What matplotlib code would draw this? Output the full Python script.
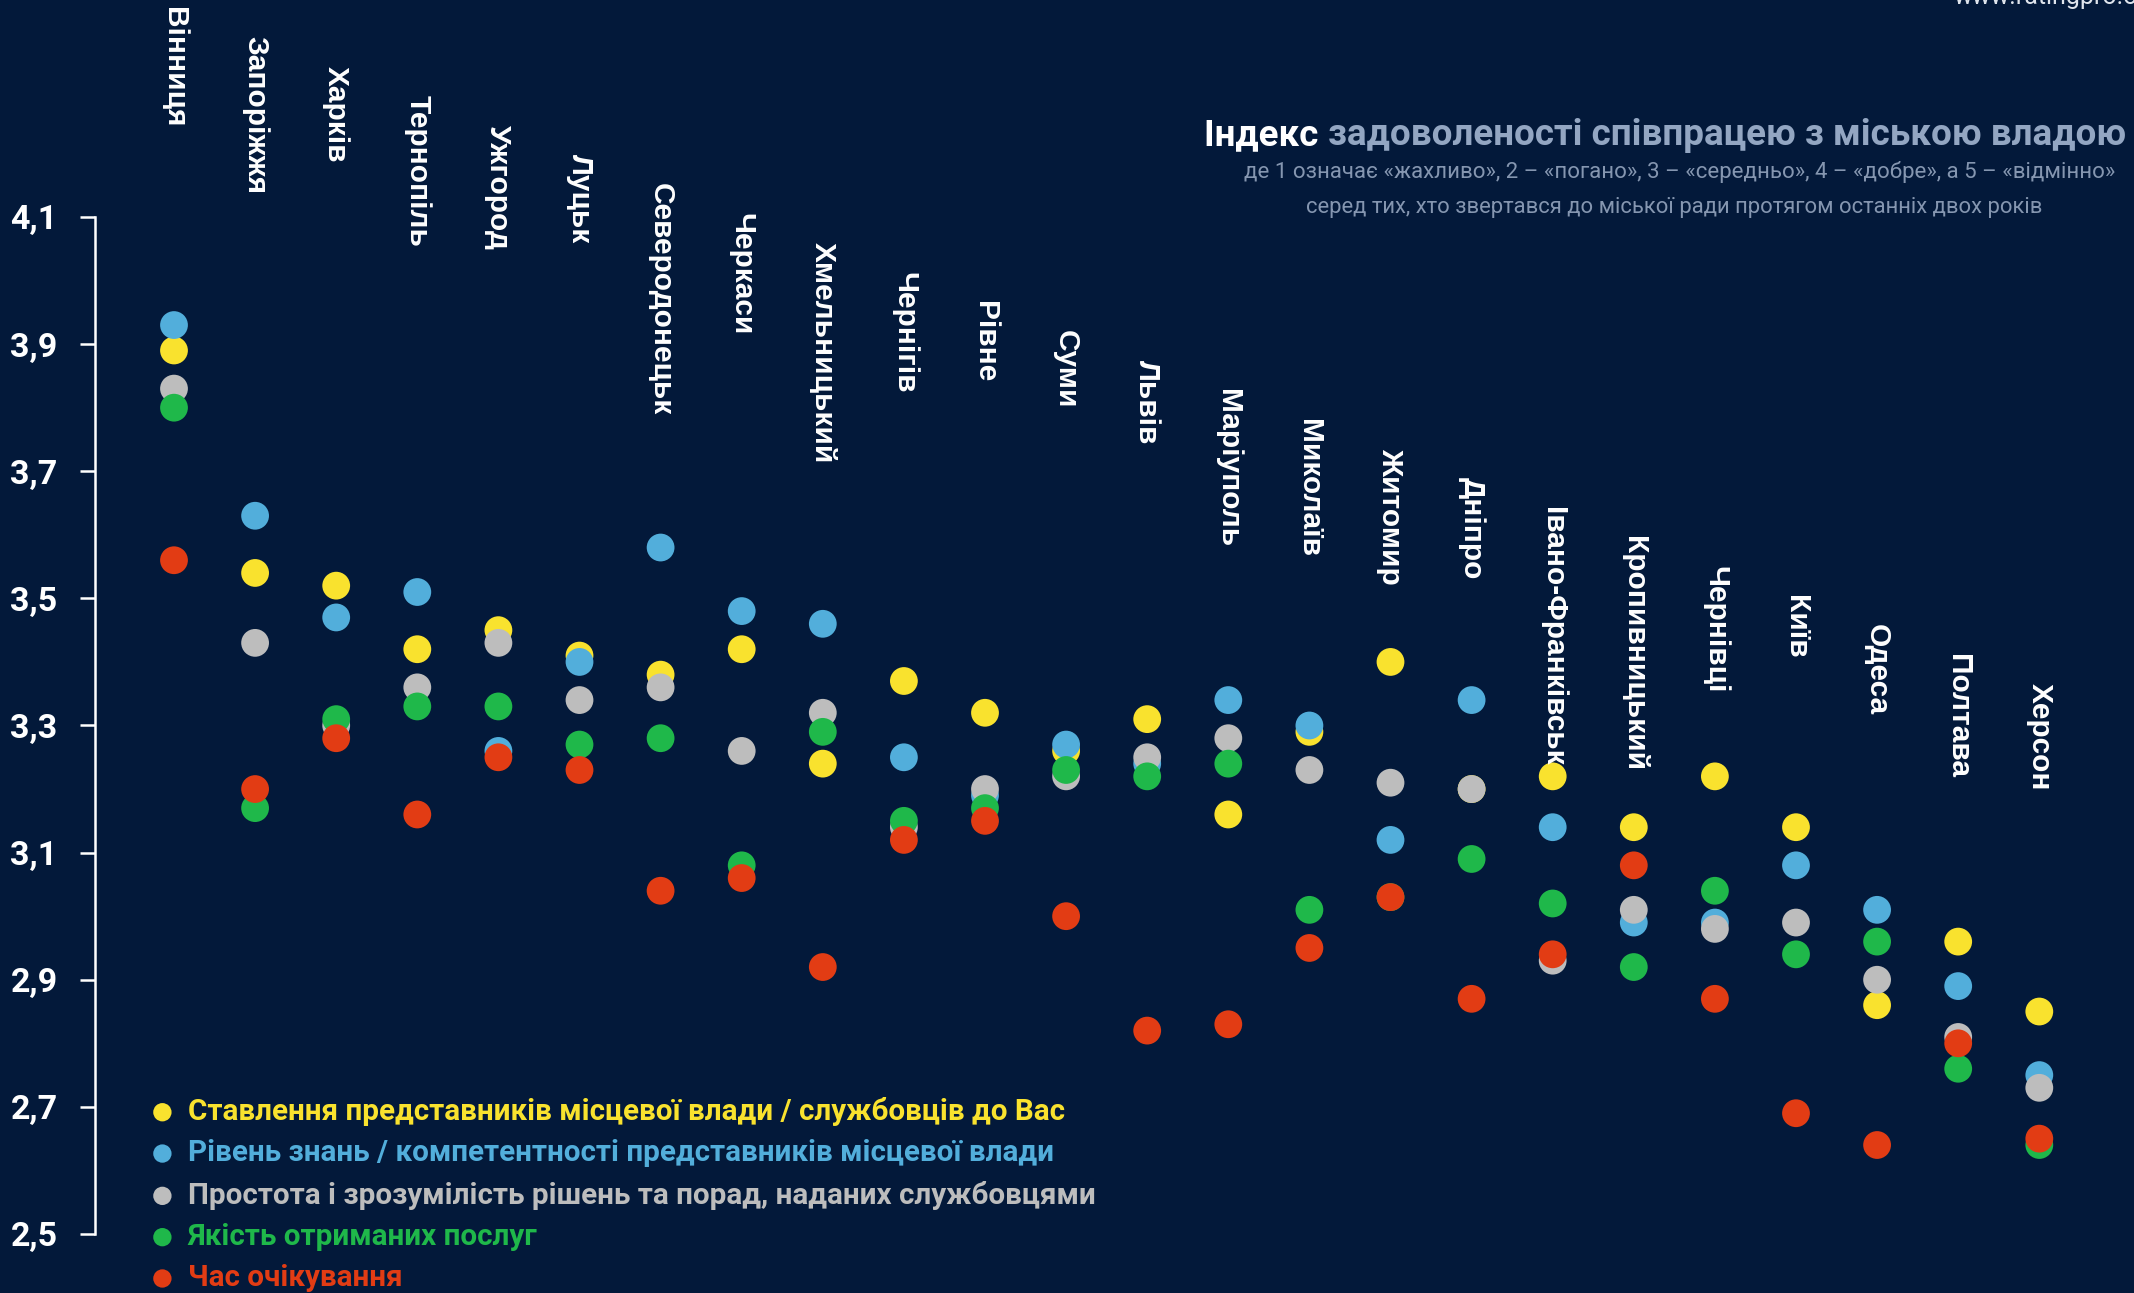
import numpy as np
from matplotlib import pyplot as plt
from matplotlib import font_manager
from matplotlib.transforms import blended_transform_factory

names = {f.name for f in font_manager.fontManager.ttflist}
narrow = 'Liberation Sans Narrow' if 'Liberation Sans Narrow' in names else 'Roboto'

cities = ['Вінниця', 'Запоріжжя', 'Харків', 'Тернопіль', 'Ужгород', 'Луцьк',
          'Северодонецьк', 'Черкаси', 'Хмельницький', 'Чернігів', 'Рівне', 'Суми',
          'Львів', 'Маріуполь', 'Миколаїв', 'Житомир', 'Дніпро', 'Івано-Франківськ',
          'Кропивницький', 'Чернівці', 'Київ', 'Одеса', 'Полтава', 'Херсон']

attitude = [3.89, 3.54, 3.52, 3.42, 3.45, 3.41, 3.38, 3.42, 3.24, 3.37, 3.32, 3.26,
            3.31, 3.16, 3.29, 3.40, 3.20, 3.22, 3.14, 3.22, 3.14, 2.86, 2.96, 2.85]
competence = [3.93, 3.63, 3.47, 3.51, 3.26, 3.40, 3.58, 3.48, 3.46, 3.25, 3.19, 3.27,
              3.24, 3.34, 3.30, 3.12, 3.34, 3.14, 2.99, 2.99, 3.08, 3.01, 2.89, 2.75]
simplicity = [3.83, 3.43, 3.30, 3.36, 3.43, 3.34, 3.36, 3.26, 3.32, 3.14, 3.20, 3.22,
              3.25, 3.28, 3.23, 3.21, 3.20, 2.93, 3.01, 2.98, 2.99, 2.90, 2.81, 2.73]
quality = [3.80, 3.17, 3.31, 3.33, 3.33, 3.27, 3.28, 3.08, 3.29, 3.15, 3.17, 3.23,
           3.22, 3.24, 3.01, 3.03, 3.09, 3.02, 2.92, 3.04, 2.94, 2.96, 2.76, 2.64]
waiting = [3.56, 3.20, 3.28, 3.16, 3.25, 3.23, 3.04, 3.06, 2.92, 3.12, 3.15, 3.00,
           2.82, 2.83, 2.95, 3.03, 2.87, 2.94, 3.08, 2.87, 2.69, 2.64, 2.80, 2.65]

series_labels = ['Ставлення представників місцевої влади / службовців до Вас',
                 'Рівень знань / компетентності представників місцевої влади',
                 'Простота і зрозумілість рішень та порад, наданих службовцями',
                 'Якість отриманих послуг',
                 'Час очікування']
colors = ['#f9e22e', '#52aedb', '#bdbdbd', '#1fb84a', '#e23c14']
yticks = [2.5, 2.7, 2.9, 3.1, 3.3, 3.5, 3.7, 3.9, 4.1]

bg = '#03193a'
W, H = 2134, 1293
fig = plt.figure(figsize=(W / 100, H / 100), dpi=100, facecolor=bg)

# axes: spine at x=95px, y from 217px (4.1) to 1234px (2.5)
ax = fig.add_axes([95 / W, (H - 1234) / H, (W - 95) / W, (1234 - 217) / H])
ax.set_facecolor(bg)
x = np.arange(len(cities))
ax.set_xlim((95 - 174) / 81.1, (W - 174) / 81.1)
ax.set_ylim(2.5, 4.1)

handles = []
for vals, c, lab in zip([attitude, competence, simplicity, quality, waiting], colors, series_labels):
    h = ax.scatter(x, vals, s=400, color=c, edgecolors='none', label=lab, clip_on=False)
    handles.append(h)

for s in ['top', 'right', 'bottom']:
    ax.spines[s].set_visible(False)
ax.spines['left'].set_color('white')
ax.spines['left'].set_linewidth(1.8)
ax.set_xticks([])
ax.set_yticks(yticks)
ax.set_yticklabels([f'{t:.1f}'.replace('.', ',') for t in yticks],
                   fontfamily=narrow, fontweight='bold', fontsize=24.5, color='white')
ax.tick_params(axis='y', direction='out', length=11, width=1.8, color='white', pad=16)

# city names, staircase from top
trans = blended_transform_factory(ax.transData, fig.transFigure)
for i, name in enumerate(cities):
    ytop = 7 + 29.4 * i
    ax.text(i, 1 - ytop / H, name, rotation=270, ha='center', va='top',
            transform=trans, color='white', fontsize=21.5, fontweight='bold',
            family=['Liberation Sans', 'DejaVu Sans'], clip_on=False)

leg = ax.legend(handles=handles, loc='upper left', frameon=False,
                bbox_to_anchor=(155 / W, 1 - 1097 / H), bbox_transform=fig.transFigure,
                markerscale=0.66, handlelength=0.5, handletextpad=0.6,
                labelspacing=0.45, borderpad=0, borderaxespad=0,
                labelcolor=colors,
                prop={'family': narrow, 'weight': 'bold', 'size': 21.3})

# title
t_rest = fig.text(2126 / W, 1 - 145 / H, 'задоволеності співпрацею з міською владою',
                  ha='right', va='baseline', color='#93a6c2', fontsize=26.5,
                  fontweight='bold', family=narrow)
fig.canvas.draw()
bb = t_rest.get_window_extent()
fig.text(bb.x0 / W, 1 - 145 / H, 'Індекс ', ha='right', va='baseline', color='white',
         fontsize=26.5, fontweight='bold', family=narrow)
fig.text(1680 / W, 1 - 172 / H,
         'де 1 означає «жахливо», 2 – «погано», 3 – «середньо», 4 – «добре», а 5 – «відмінно»',
         ha='center', va='center', color='#8596b0', fontsize=16, family=narrow)
fig.text(1674 / W, 1 - 207 / H,
         'серед тих, хто звертався до міської ради протягом останніх двох років',
         ha='center', va='center', color='#8596b0', fontsize=15.8, family=narrow)
fig.text(2160 / W, 1 - 4 / H, 'www.ratingpro.org', ha='right', va='baseline',
         color='#dfe4ec', fontsize=18, family=narrow)

fig.savefig('out.png', dpi=100, facecolor=bg)
